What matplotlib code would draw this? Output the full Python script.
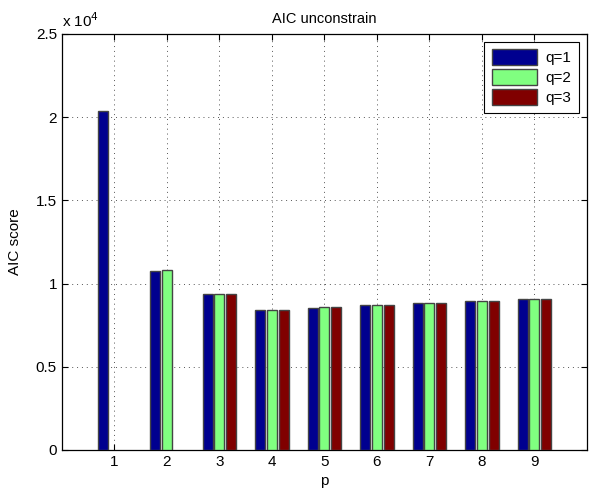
from matplotlib import pyplot as plt
from matplotlib.ticker import FuncFormatter
import numpy as np

plt.rcParams['font.family'] = ['Liberation Sans', 'DejaVu Sans']

p = [1, 2, 3, 4, 5, 6, 7, 8, 9]
q_labels = ['q=1', 'q=2', 'q=3']
aic_q1 = [20370, 10780, 9360, 8410, 8550, 8700, 8820, 8940, 9070]
aic_q2 = [np.nan, 10800, 9360, 8410, 8570, 8710, 8830, 8950, 9070]
aic_q3 = [np.nan, np.nan, 9360, 8420, 8590, 8710, 8830, 8960, 9080]

colors = ['#00008F', '#80FF80', '#800000']

fig = plt.figure(figsize=(5.89, 4.97), dpi=100)
ax = fig.add_axes([0.105, 0.0946, 0.8916, 0.837])

x = np.array(p, dtype=float)
width = 0.19
offsets = [-0.222, 0.0, 0.222]
for vals, off, col, lab in zip([aic_q1, aic_q2, aic_q3], offsets, colors, q_labels):
    ax.bar(x + off, vals, width=width, color=col, edgecolor='#444444',
           linewidth=1.0, label=lab, zorder=3)

ax.set_xlim(0, 10)
ax.set_ylim(0, 25000)
ax.set_xticks(p)
ax.set_yticks(np.arange(0, 25001, 5000))
ax.yaxis.set_major_formatter(FuncFormatter(lambda v, pos: '%g' % (v / 1e4)))
ax.grid(True, linestyle=(0, (1, 4)), color='#555555', linewidth=0.7, zorder=0)
ax.tick_params(direction='in', top=True, right=True, labelsize=11, length=4)
for s in ax.spines.values():
    s.set_linewidth(0.9)

ax.text(0.0, 1.01, r'x 10$^4$', transform=ax.transAxes, fontsize=11,
        ha='left', va='bottom')
ax.set_title('AIC unconstrain', fontsize=10.5, pad=8)
ax.set_xlabel('p', fontsize=11, labelpad=4)
ax.set_ylabel('AIC score', fontsize=11, labelpad=10)

leg = ax.legend(loc='upper right', fontsize=11, fancybox=False,
                edgecolor='black', framealpha=1, handlelength=3.0,
                handleheight=1.2, borderaxespad=0.5, labelspacing=0.25,
                handletextpad=0.55, borderpad=0.5)
leg.get_frame().set_linewidth(0.8)

fig.savefig('out.png', dpi=100)
